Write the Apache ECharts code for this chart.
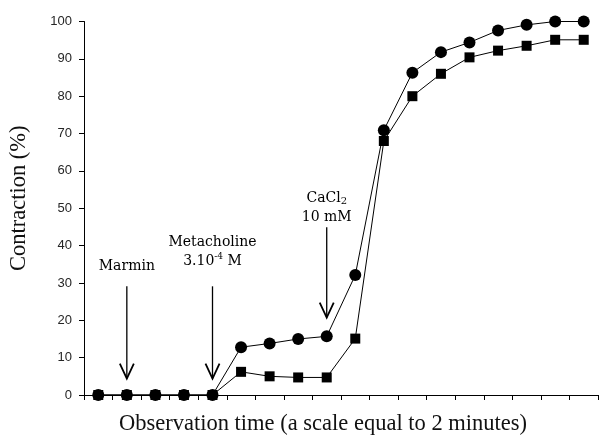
<!DOCTYPE html>
<html>
<head>
<meta charset="utf-8">
<script src="https://cdn.jsdelivr.net/npm/echarts@6/dist/echarts.min.js"></script>
<style>html,body{margin:0;padding:0;background:#fff}#c{width:599px;height:441px}</style>
</head>
<body>
<div id="c"></div>
<script>
const categories = ['1','2','3','4','5','6','7','8','9','10','11','12','13','14','15','16','17','18'];
const circleValues = [0, 0, 0, 0, 0, 12.8, 13.8, 15.0, 15.7, 32.1, 70.9, 86.3, 91.8, 94.4, 97.6, 99.1, 100, 100];
const squareValues = [0, 0, 0, 0, 0, 6.2, 5.0, 4.7, 4.7, 15.1, 68.0, 80.0, 86.0, 90.4, 92.2, 93.5, 95.1, 95.1];
const yTicks = [0, 10, 20, 30, 40, 50, 60, 70, 80, 90, 100];
// annotations: category index, arrow top value, arrow tip value, text centre value, text
const annotX = [1, 4, 8];
const annotTop = [29.1, 29.1, 44.9];
const annotTip = [4.4, 4.4, 20.7];
const annotTextY = [34.5, 38.2, 50.2];
const annotText = ['{t|Marmin}', '{t|Metacholine}\n{t|3.10}{sup|-4}{t| M}', '{t|CaCl}{sub|2}\n{t|10 mM}'];

const annotData = annotX.map((x, i) => [x, annotTop[i], annotTip[i], annotTextY[i], i]);
const serif = '"Liberation Serif","Times New Roman",serif';
const aSerif = '"DejaVu Serif",serif';
const txtColor = '#2a2a2a';

const chart = echarts.init(document.getElementById('c'), null, {renderer: 'canvas'});
chart.setOption({
  animation: false,
  backgroundColor: '#fff',
  grid: {left: 84, right: 1, top: 21.5, bottom: 41, containLabel: false},
  xAxis: {
    type: 'category',
    data: categories,
    boundaryGap: true,
    name: 'Observation time (a scale equal to 2 minutes)',
    nameLocation: 'middle',
    nameGap: 18,
    nameTextStyle: {fontFamily: serif, fontSize: 22.5, color: '#111', verticalAlign: 'top', padding: [0, 36, 0, 0]},
    axisLine: {lineStyle: {color: '#000', width: 1}},
    axisTick: {show: true, length: 5, alignWithLabel: false, lineStyle: {color: '#000'}},
    axisLabel: {show: false},
    splitLine: {show: false}
  },
  yAxis: {
    type: 'value',
    min: yTicks[0],
    max: yTicks[yTicks.length - 1],
    interval: 10,
    name: 'Contraction (%)',
    nameLocation: 'middle',
    nameGap: 53,
    nameTextStyle: {fontFamily: serif, fontSize: 22.5, color: '#111', padding: [0, 0, 0, 20]},
    axisLine: {show: true, lineStyle: {color: '#000', width: 1}},
    axisTick: {show: true, length: 5, lineStyle: {color: '#000'}},
    axisLabel: {margin: 12, fontFamily: '"Liberation Sans", Arial, sans-serif', fontSize: 13, color: '#262626'},
    splitLine: {show: false}
  },
  series: [
    {
      name: 'square',
      type: 'line',
      data: squareValues,
      symbol: 'rect',
      symbolSize: 10,
      itemStyle: {color: '#000'},
      lineStyle: {color: '#000', width: 1},
      z: 2
    },
    {
      name: 'circle',
      type: 'line',
      data: circleValues,
      symbol: 'circle',
      symbolSize: 12,
      itemStyle: {color: '#000'},
      lineStyle: {color: '#000', width: 1},
      z: 3
    },
    {
      type: 'custom',
      data: annotData,
      z: 5,
      silent: true,
      renderItem: function (params, api) {
        const x = api.value(0);
        const top = api.coord([x, api.value(1)]);
        const tip = api.coord([x, api.value(2)]);
        const tc = api.coord([x, api.value(3)]);
        const idx = api.value(4);
        return {
          type: 'group',
          children: [
            {type: 'line', shape: {x1: top[0], y1: top[1], x2: tip[0], y2: tip[1]}, style: {stroke: '#000', lineWidth: 1.3}},
            {type: 'polyline', shape: {points: [[tip[0] - 7, tip[1] - 15], [tip[0], tip[1]], [tip[0] + 7, tip[1] - 15]]}, style: {stroke: '#000', lineWidth: 1.8, fill: null}},
            {type: 'text', x: tc[0], y: tc[1], style: {
              text: annotText[idx], align: 'center', verticalAlign: 'middle',
              rich: {
                t: {fontFamily: aSerif, fontSize: 14, color: txtColor, lineHeight: 19},
                sup: {fontFamily: aSerif, fontSize: 9, color: txtColor, lineHeight: 19, verticalAlign: 'top', padding: [0, 0, 6, 0]},
                sub: {fontFamily: aSerif, fontSize: 10, color: txtColor, lineHeight: 19, padding: [6, 0, 0, 0]}
              }
            }}
          ]
        };
      }
    }
  ]
});
</script>
</body>
</html>
